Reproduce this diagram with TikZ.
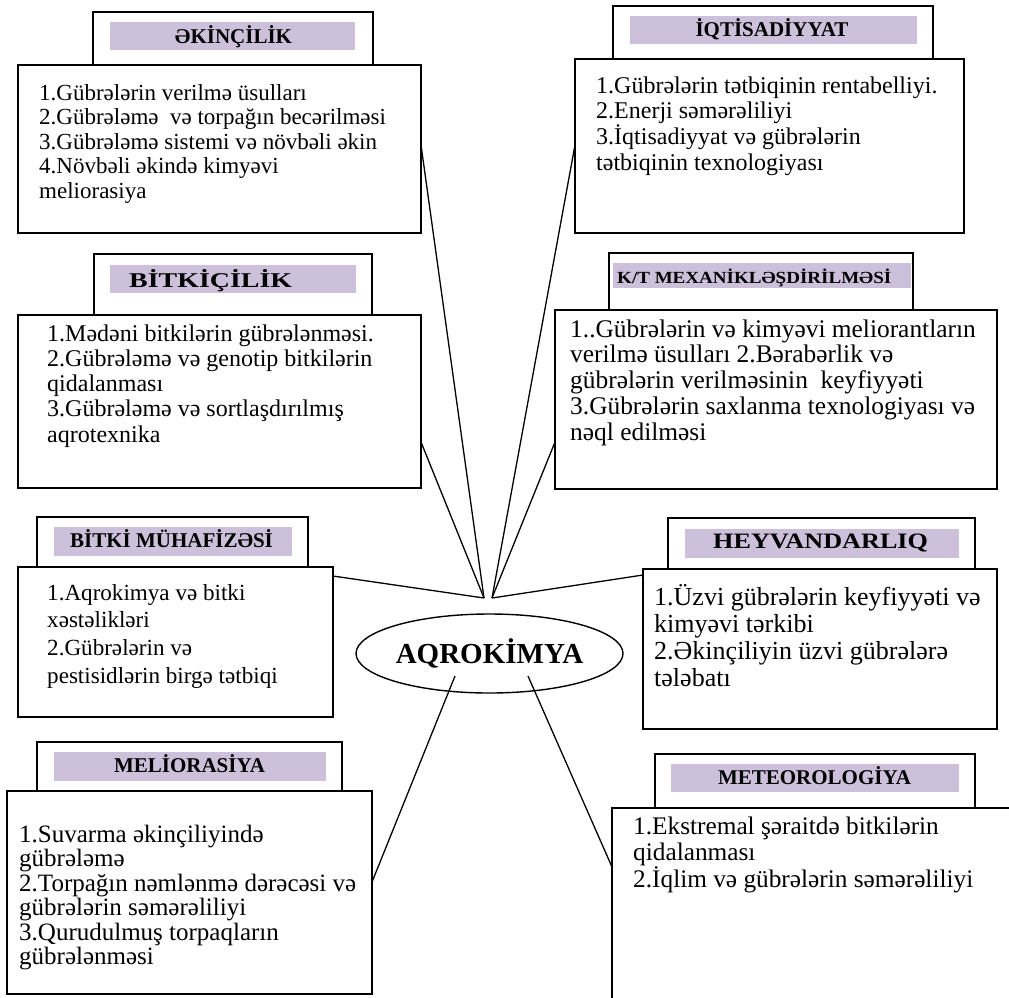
\documentclass[tikz,border=0pt]{standalone}
\usepackage{fontspec}
\usepackage{graphicx}
\setmainfont{Liberation Serif}
\usetikzlibrary{calc,shapes.geometric}
\definecolor{lilac}{RGB}{204,192,218}
\tikzset{
  boxline/.style={draw=black, line width=1.6pt, fill=white, inner sep=0pt, outer sep=0pt, anchor=north west},
  bar/.style={fill=lilac, inner sep=0pt, outer sep=0pt, anchor=north west},
  ttl/.style={inner sep=0pt, font=\fontsize{21}{25}\selectfont\bfseries},
  body/.style={inner sep=0pt, anchor=base west},
  conn/.style={draw=black, line width=1.3pt},
}
\newcommand\rbox[6]{\node[#2, minimum width={(#5-#3)*1pt}, minimum height={(#6-#4)*1pt}] (#1) at (#3,#4) {};}
\newcommand\btext[3]{\parbox[t]{600pt}{\fontsize{#1}{#2}\selectfont\raggedright #3}}
\begin{document}
\begin{tikzpicture}[x=1pt,y=-1pt]
\useasboundingbox (0,0) rectangle (1009,997);
\fill[white] (0,0) rectangle (1009,997);
% ---------- ƏKİNÇİLİK
\rbox{t1}{boxline}{93}{12}{373}{65}
\rbox{f1}{bar}{110}{22}{355}{50}
\node[ttl, anchor=base] (h1) at (233.5,43) {ƏKİNÇİLİK};
\rbox{b1}{boxline}{18}{65}{421}{233}
\node[body] (x1) at (39,100) {\btext{23}{24.5}{1.Gübrələrin verilmə üsulları\\2.Gübrələmə~ və torpağın becərilməsi\\3.Gübrələmə sistemi və növbəli əkin\\4.Növbəli əkində kimyəvi\\meliorasiya}};
% ---------- İQTİSADİYYAT
\rbox{t2}{boxline}{613}{6}{933}{59}
\rbox{f2}{bar}{630}{16}{917}{44}
\node[ttl, anchor=base] (h2) at (772,36) {İQTİSADİYYAT};
\rbox{b2}{boxline}{575}{59}{964}{233}
\node[body] (x2) at (596,93) {\btext{24}{25.7}{1.Gübrələrin tətbiqinin rentabelliyi.\\2.Enerji səmərəliliyi\\3.İqtisadiyyat və gübrələrin\\tətbiqinin texnologiyası}};
% ---------- BİTKİÇİLİK
\rbox{t3}{boxline}{94}{254}{372}{315}
\rbox{f3}{bar}{110}{265}{356}{293}
\node[ttl, anchor=base west] (h3) at (129,287) {\scalebox{1.33}[1]{BİTKİÇİLİK}};
\rbox{b3}{boxline}{18}{315}{421}{488}
\node[body] (x3) at (47,341) {\btext{24}{25.3}{1.Mədəni bitkilərin gübrələnməsi.\\2.Gübrələmə və genotip bitkilərin\\qidalanması\\3.Gübrələmə və sortlaşdırılmış\\aqrotexnika}};
% ---------- K/T MEXANİKLƏŞDİRİLMƏSİ
\rbox{t4}{boxline}{609}{253}{913}{310}
\rbox{f4}{bar}{613}{263}{911}{288}
\node[ttl, anchor=base west, font=\fontsize{17}{20}\selectfont\bfseries] (h4) at (617,283) {\scalebox{1.12}[1]{K/T MEXANİKLƏŞDİRİLMƏSİ}};
\rbox{b4}{boxline}{555}{310}{997}{489}
\node[body] (x4) at (570,337) {\btext{25.4}{25.8}{1..Gübrələrin və kimyəvi meliorantların\\verilmə üsulları 2.Bərabərlik və\\gübrələrin verilməsinin~ keyfiyyəti\\3.Gübrələrin saxlanma texnologiyası və\\nəql edilməsi}};
% ---------- BİTKİ MÜHAFİZƏSİ
\rbox{t5}{boxline}{37}{517}{308}{567}
\rbox{f5}{bar}{54}{527}{292}{556}
\node[ttl, anchor=base] (h5) at (171.5,547) {BİTKİ MÜHAFİZƏSİ};
\rbox{b5}{boxline}{18}{567}{333}{717}
\node[body] (x5) at (47,600) {\btext{23.1}{27.7}{1.Aqrokimya və bitki\\xəstəlikləri\\2.Gübrələrin və\\pestisidlərin birgə tətbiqi}};
% ---------- MELİORASİYA
\rbox{t6}{boxline}{37}{742}{342}{791}
\rbox{f6}{bar}{54}{752}{326}{781}
\node[ttl, anchor=base] (h6) at (189.5,772) {MELİORASİYA};
\rbox{b6}{boxline}{7}{791}{372}{994}
\node[body] (x6) at (19,842) {\btext{25}{24.5}{1.Suvarma əkinçiliyində\\gübrələmə\\2.Torpağın nəmlənmə dərəcəsi və\\gübrələrin səmərəliliyi\\3.Qurudulmuş torpaqların\\gübrələnməsi}};
% ---------- HEYVANDARLIQ
\rbox{t7}{boxline}{668}{518}{975}{569}
\rbox{f7}{bar}{685}{529}{959}{558}
\node[ttl, anchor=base west, font=\fontsize{22}{26}\selectfont\bfseries] (h7) at (713,548) {\scalebox{1.19}[1]{HEYVANDARLIQ}};
\rbox{b7}{boxline}{643}{569}{997}{729}
\node[body] (x7) at (654,605) {\btext{26}{27.2}{1.Üzvi gübrələrin keyfiyyəti və\\kimyəvi tərkibi\\2.Əkinçiliyin üzvi gübrələrə\\tələbatı}};
% ---------- METEOROLOGİYA
\rbox{t8}{boxline}{655}{754}{975}{808}
\rbox{f8}{bar}{671}{764}{959}{792}
\node[ttl, anchor=base] (h8) at (814.5,784) {METEOROLOGİYA};
\rbox{b8}{boxline}{612}{808}{1030}{1015}
\node[body] (x8) at (633,834) {\btext{25.3}{26.7}{1.Ekstremal şəraitdə bitkilərin\\qidalanması\\2.İqlim və gübrələrin səmərəliliyi}};
% ---------- centre
\node[ellipse, draw=black, line width=1.4pt, fill=white, minimum width=267pt, minimum height=79pt, inner sep=0pt] (ell) at (489.5,653.5) {};
\node[inner sep=0pt, font=\fontsize{29}{32}\selectfont\bfseries, text height=19.2pt, text depth=0pt] (lbl) at (ell.center) {AQROKİMYA};
\coordinate (apL) at ($(ell.center)+(-5.5,-55.5)$);
\coordinate (apR) at ($(ell.center)+(2.5,-55.5)$);
\coordinate (dnL) at ($(ell.center)+(-34.5,22.5)$);
\coordinate (dnR) at ($(ell.center)+(38.5,22.5)$);
% ---------- connectors
\draw[conn] ($(b1.north east)+(0,80)$) -- (apL);
\draw[conn] ($(b3.north east)+(0,127)$) -- (apL);
\draw[conn] ($(b5.north east)+(0,9)$) -- (apL);
\draw[conn] ($(b2.north west)+(0,86)$) -- (apR);
\draw[conn] ($(b4.north west)+(0,132)$) -- (apR);
\draw[conn] ($(b7.north west)+(0,6)$) -- (apR);
\draw[conn] (dnL) -- ($(b6.north east)+(0,91)$);
\draw[conn] (dnR) -- ($(b8.north west)+(0,59)$);
\end{tikzpicture}
\end{document}
